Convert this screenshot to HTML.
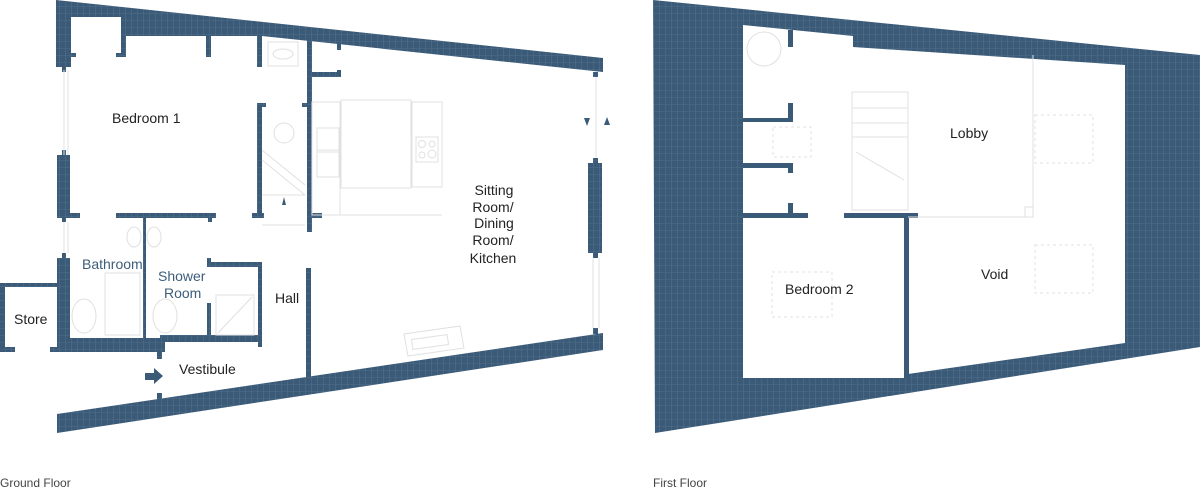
<!DOCTYPE html>
<html><head><meta charset="utf-8"><style>
html,body{margin:0;padding:0;background:#fff;}
svg{display:block;}
text{font-family:"Liberation Sans",sans-serif;}
</style></head><body>
<svg width="1200" height="499" viewBox="0 0 1200 499" xmlns="http://www.w3.org/2000/svg">
<defs>
<pattern id="g" width="6" height="7" patternUnits="userSpaceOnUse">
<rect width="6" height="7" fill="#3a5a78"/>
<path d="M5.5 0V7M0 6.5H6" stroke="#4f6e89" stroke-width="0.6"/>
</pattern>
</defs>
<g fill="url(#g)">
<polygon points="56,0 603,58 603,72 262,36 126,36 126,57 116,57 116,53 121,53 121,17 71,17 71,53 76,53 76,57 71,57 71,67 66,67 66,72 62,72 62,67 56,67"/>
<rect x="206" y="36" width="5" height="21"/>
<rect x="257" y="36" width="5" height="31"/>
<rect x="593" y="72" width="5" height="5"/>
<rect x="57" y="155" width="13" height="63"/>
<rect x="62" y="150" width="4" height="72"/>
<rect x="57" y="258" width="13" height="94"/>
<rect x="62" y="253" width="4" height="6"/>
<rect x="0" y="283" width="57" height="4"/>
<rect x="0" y="283" width="5" height="69"/>
<rect x="0" y="347" width="15" height="5"/>
<rect x="50" y="347" width="8" height="5"/>
<rect x="57" y="338" width="108" height="14"/>
<rect x="160" y="335" width="102" height="7"/>
<rect x="57" y="213" width="23" height="5"/>
<rect x="116" y="213" width="100" height="5"/>
<rect x="208" y="213" width="4" height="9"/>
<rect x="252" y="213" width="12" height="5"/>
<rect x="143" y="217" width="3" height="121"/>
<rect x="207" y="262" width="55" height="5"/>
<rect x="207" y="258" width="4" height="8"/>
<rect x="207" y="303" width="4" height="37"/>
<rect x="258" y="262" width="4" height="85"/>
<rect x="257" y="103" width="5" height="115"/>
<rect x="257" y="103" width="9" height="4"/>
<rect x="302" y="103" width="5" height="4"/>
<rect x="307" y="38" width="5" height="194"/>
<rect x="312" y="72" width="29" height="5"/>
<rect x="337" y="70" width="4" height="7"/>
<rect x="337" y="44" width="4" height="6"/>
<rect x="312" y="213" width="10" height="5"/>
<rect x="306" y="268" width="5" height="110"/>
<rect x="157" y="352" width="5" height="7"/>
<rect x="157" y="393" width="5" height="8"/>
<rect x="588" y="163" width="14" height="90"/>
<rect x="593" y="158" width="5" height="100"/>
<rect x="593" y="328" width="5" height="6"/>
<polygon points="57,414 603,333 603,350 57,433"/>
<path fill-rule="evenodd" d="M653,0 L1200,55 L1200,347 L655,433 Z M743,25 L853,36 L853,47 L1125,65 L1125,343 L908,374 L908,378 L743,378 Z"/>
</g>
<g fill="#3a5a78">
<rect x="788" y="30" width="5" height="17"/>
<rect x="788" y="103" width="5" height="19"/>
<rect x="743" y="118" width="50" height="4"/>
<rect x="743" y="163" width="50" height="5"/>
<rect x="788" y="163" width="5" height="10"/>
<rect x="788" y="203" width="5" height="12"/>
<rect x="743" y="213" width="65" height="5"/>
<rect x="844" y="213" width="74" height="5"/>
<rect x="904" y="213" width="5" height="165"/>
<polygon points="145,373 154,373 154,368 163,376 154,384 154,380 145,380"/>
<polygon points="584,118 590,118 587,126"/>
<polygon points="604,125 610,125 607,117"/>
<polygon points="282,205 286,205 284,197"/>
</g>
<g fill="none" stroke="#e0e0e0" stroke-width="1">
<line x1="68" y1="70" x2="68" y2="155"/><line x1="64" y1="70" x2="64" y2="155"/>
<line x1="68" y1="222" x2="68" y2="253"/><line x1="64" y1="222" x2="64" y2="253"/>
<line x1="596" y1="77" x2="596" y2="158"/><line x1="599" y1="258" x2="599" y2="328"/><line x1="593" y1="258" x2="593" y2="328"/>
<rect x="341" y="100" width="70" height="88"/>
<rect x="412" y="102" width="30" height="85"/>
<rect x="416" y="137" width="22" height="25"/>
<circle cx="422" cy="144" r="3.5"/><circle cx="432" cy="144" r="3"/><circle cx="422" cy="155" r="3"/><circle cx="432" cy="154" r="4"/>
<rect x="317" y="128" width="22" height="24"/><rect x="317" y="150" width="22" height="27"/>
<rect x="312" y="102" width="28" height="113"/>
<line x1="312" y1="215" x2="442" y2="215"/>
<rect x="268" y="42" width="30" height="24"/><ellipse cx="283" cy="54" rx="10" ry="5"/>
<circle cx="284" cy="133" r="10"/>
<line x1="262" y1="150" x2="305" y2="185"/><line x1="262" y1="160" x2="305" y2="195"/>
<line x1="262" y1="195" x2="305" y2="195"/><line x1="262" y1="225" x2="305" y2="225"/>
<ellipse cx="134" cy="237" rx="7" ry="10"/><ellipse cx="154" cy="237" rx="7" ry="10"/>
<rect x="105" y="273" width="35" height="62"/>
<ellipse cx="84" cy="316" rx="12" ry="17"/><ellipse cx="165" cy="316" rx="12" ry="17"/>
<rect x="216" y="295" width="38" height="40"/><line x1="218" y1="333" x2="252" y2="297"/>
<polygon points="404,334 460,326 464,348 408,356"/><rect x="412" y="337" width="36" height="10" transform="rotate(-8 430 342)"/>
<circle cx="764" cy="49" r="17"/>
<rect x="852" y="92" width="56" height="118"/>
<line x1="852" y1="108" x2="908" y2="108"/><line x1="852" y1="123" x2="908" y2="123"/><line x1="852" y1="137" x2="908" y2="137"/>
<line x1="856" y1="152" x2="904" y2="180"/>
<line x1="908" y1="217" x2="1033" y2="217"/><line x1="1033" y1="55" x2="1033" y2="217"/><rect x="1025" y="207" width="8" height="10"/>
<rect x="1035" y="115" width="58" height="48" stroke-dasharray="3,3"/>
<rect x="1035" y="245" width="58" height="48" stroke-dasharray="3,3"/>
<rect x="772" y="272" width="60" height="45" stroke-dasharray="3,3"/>
<rect x="773" y="127" width="38" height="30" stroke-dasharray="3,3"/>
</g>
<g font-size="14" fill="#222">
<text x="112" y="123">Bedroom 1</text>
<text x="82" y="269" fill="#3d5d7a">Bathroom</text>
<text x="158" y="281" fill="#3d5d7a">Shower</text>
<text x="164" y="298" fill="#3d5d7a">Room</text>
<text x="14" y="324">Store</text>
<text x="275" y="303">Hall</text>
<text x="179" y="374">Vestibule</text>
<g text-anchor="middle">
<text x="494" y="195">Sitting</text>
<text x="493" y="212">Room/</text>
<text x="494" y="228">Dining</text>
<text x="493" y="245">Room/</text>
<text x="493" y="263">Kitchen</text>
</g>
<text x="950" y="138">Lobby</text>
<text x="981" y="279">Void</text>
<text x="785" y="294">Bedroom 2</text>
</g>
<g font-size="12" fill="#444">
<text x="0" y="487">Ground Floor</text>
<text x="653" y="487">First Floor</text>
</g>
</svg>
</body></html>
